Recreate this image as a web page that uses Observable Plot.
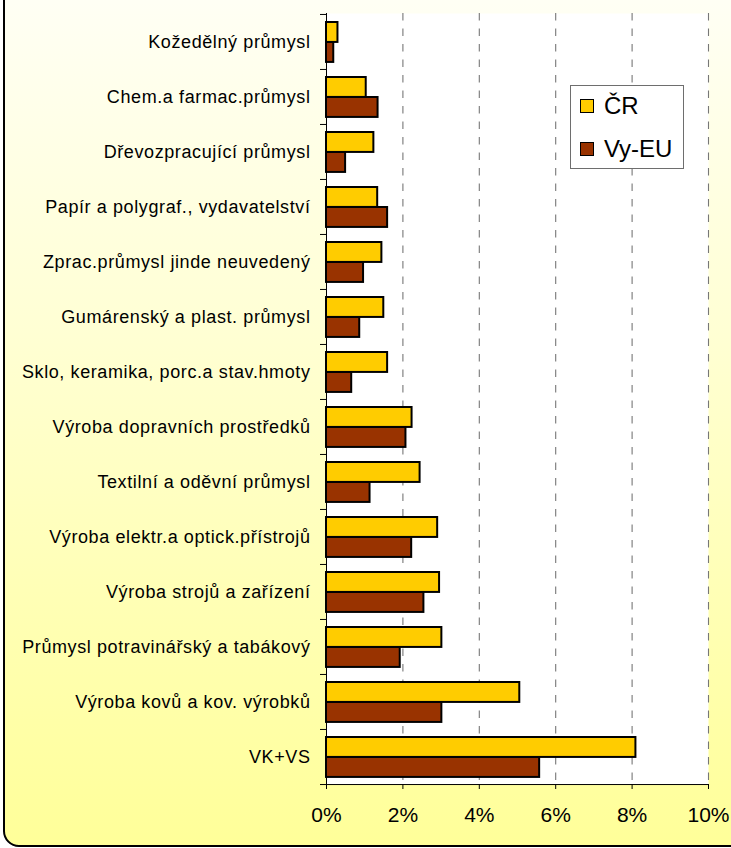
<!DOCTYPE html>
<html>
<head>
<meta charset="utf-8">
<script src="https://cdn.jsdelivr.net/npm/d3@7"></script>
<script src="https://cdn.jsdelivr.net/npm/@observablehq/plot@0.6"></script>
<style>
  html, body { margin: 0; padding: 0; background: #ffffff; }
  #wrap { position: relative; width: 731px; height: 848px; overflow: hidden; font-family: "Liberation Sans", Arial, sans-serif; }
  #bg { position: absolute; left: 3px; top: -20px; width: 760px; height: 863px; border: 2px solid #000; border-radius: 16px;
        background: linear-gradient(to bottom, #fffff6 0%, #ffffd4 40%, #ffff99 100%); }
  #chart { position: absolute; left: 0; top: 0; }
  #legend { position: absolute; left: 570px; top: 85px; width: 112px; height: 82px; border: 1px solid #6e6e6e; background: #fff; }
  .item { position: absolute; left: 9px; display: flex; align-items: center; font-size: 24px; color: #000; }
  .sw { width: 12px; height: 12px; border: 1.5px solid #000; margin-right: 10px; }
</style>
</head>
<body>
<div id="wrap">
  <div id="bg"></div>
  <div id="chart"></div>
  <div id="legend"></div>
</div>
<script>
const categories = [
  "Kožedělný průmysl",
  "Chem.a farmac.průmysl",
  "Dřevozpracující průmysl",
  "Papír a polygraf., vydavatelství",
  "Zprac.průmysl jinde neuvedený",
  "Gumárenský a plast. průmysl",
  "Sklo, keramika, porc.a stav.hmoty",
  "Výroba dopravních prostředků",
  "Textilní a oděvní průmysl",
  "Výroba elektr.a optick.přístrojů",
  "Výroba strojů a zařízení",
  "Průmysl potravinářský a tabákový",
  "Výroba kovů a kov. výrobků",
  "VK+VS"
];
const seriesNames = ["ČR", "Vy-EU"];
const crValues   = [0.30, 1.04, 1.24, 1.34, 1.45, 1.50, 1.60, 2.24, 2.45, 2.91, 2.96, 3.02, 5.06, 8.10];
const vyeuValues = [0.19, 1.35, 0.50, 1.60, 0.97, 0.87, 0.66, 2.08, 1.14, 2.23, 2.55, 1.93, 3.02, 5.58];
const seriesColors = ["#FFCC00", "#993300"];
const xTicks = [0, 2, 4, 6, 8, 10];

const crData = categories.map((c, i) => ({cat: c, series: seriesNames[0], value: crValues[i]}));
const euData = categories.map((c, i) => ({cat: c, series: seriesNames[1], value: vyeuValues[i]}));

const W = 731, H = 848, mt = 13, mb = 64, ml = 326, mr = 23;
const band = (H - mt - mb) / categories.length;
const half = band / 2;

const chart = Plot.plot({
  width: W,
  height: H,
  marginTop: mt,
  marginBottom: mb,
  marginLeft: ml,
  marginRight: mr,
  style: {fontFamily: '"Liberation Sans", Arial, sans-serif', color: "#000", background: "transparent", overflow: "visible"},
  x: {domain: [0, 10], label: null},
  y: {domain: categories, padding: 0, label: null},
  marks: [
    Plot.frame({fill: "#fff", stroke: null}),
    Plot.ruleX(xTicks.filter(d => d > 0), {stroke: "#777", strokeWidth: 1.1, strokeDasharray: "7.5,8"}),
    Plot.barX(crData, {x: "value", y: "cat", fill: seriesColors[0], stroke: "#000", strokeWidth: 2, insetTop: 8, insetBottom: band - 28}),
    Plot.barX(euData, {x: "value", y: "cat", fill: seriesColors[1], stroke: "#000", strokeWidth: 2, insetTop: 28, insetBottom: band - 48}),
    Plot.ruleX([0], {stroke: "#000", strokeWidth: 1}),
    Plot.ruleY([categories[categories.length - 1]], {y: d => d, x1: 0, x2: 10, dy: half, stroke: "#000", strokeWidth: 1}),
    Plot.ruleY(categories, {y: d => d, x1: 0, x2: 0, insetLeft: -6, dy: -half, stroke: "#000"}),
    Plot.ruleY([categories[categories.length - 1]], {y: d => d, x1: 0, x2: 0, insetLeft: -6, dy: half, stroke: "#000"}),
    Plot.axisY({tickSize: 0, tickPadding: 16, fontSize: 18, label: null, fill: "#000"}),
    Plot.axisX({ticks: xTicks, tickFormat: d => d + "%", tickSize: 5, tickPadding: 18, fontSize: 21, label: null, fill: "#000", stroke: "#000"})
  ]
});
d3.select(chart).selectAll('g[aria-label="y-axis tick label"] text').style("letter-spacing", "0.6px");
document.getElementById("chart").appendChild(chart);

const legend = document.getElementById("legend");
seriesNames.forEach((name, i) => {
  const item = document.createElement("div");
  item.className = "item";
  item.style.top = (i === 0 ? 6 : 49) + "px";
  const sw = document.createElement("div");
  sw.className = "sw";
  sw.style.background = seriesColors[i];
  const label = document.createElement("span");
  label.textContent = name;
  item.appendChild(sw);
  item.appendChild(label);
  legend.appendChild(item);
});
</script>
</body>
</html>
